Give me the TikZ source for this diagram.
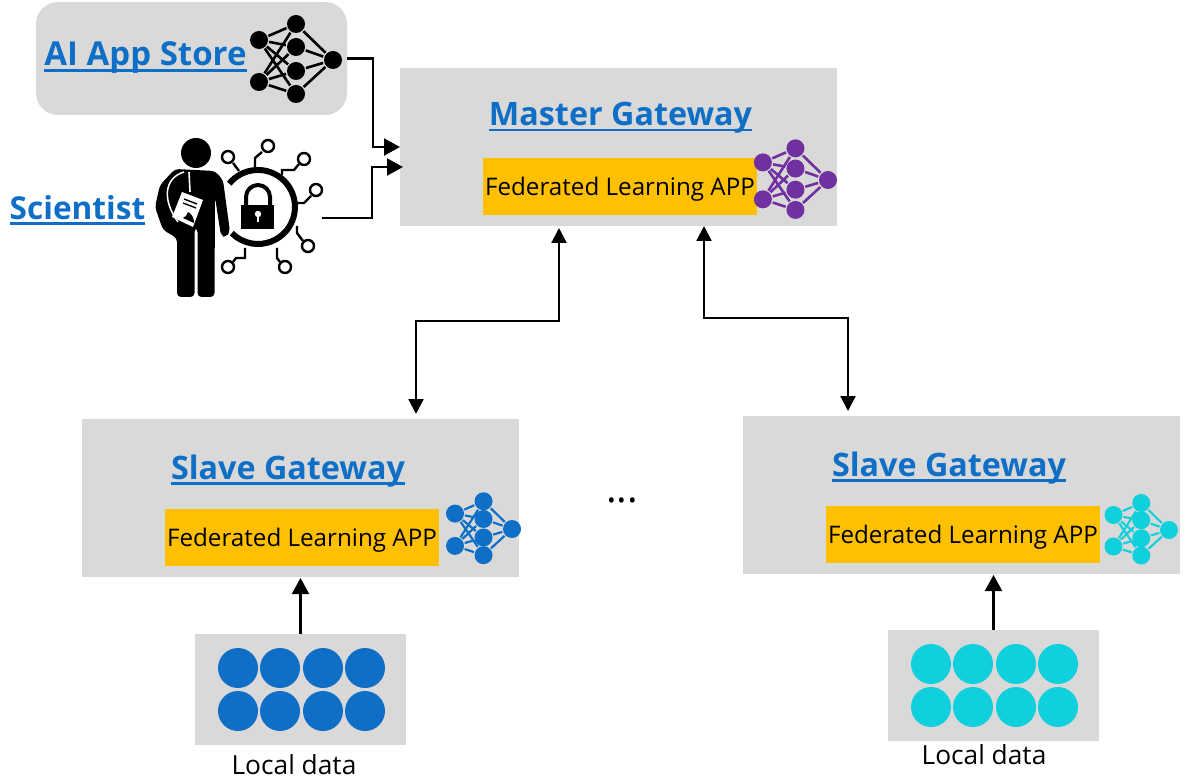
\documentclass[tikz,border=0pt]{standalone}
\usepackage{fontspec}
\setmainfont{Open Sans}
\usetikzlibrary{arrows.meta}
\definecolor{boxgray}{HTML}{D9D9D9}
\definecolor{appyellow}{HTML}{FFC000}
\definecolor{linkblue}{HTML}{0F6FC6}
\definecolor{netpurple}{HTML}{7030A0}
\definecolor{netcyan}{HTML}{0FD0DC}
\newcommand{\ultext}[1]{\setbox0=\hbox{#1}\rlap{\vrule width\wd0 height-3pt depth 5.6pt}\box0}
\tikzset{
        gatebox/.style = {fill=boxgray, inner sep=0pt, minimum width=437pt, minimum height=158pt},
        storebox/.style = {fill=boxgray, inner sep=0pt, rounded corners=22pt,
            minimum width=311pt, minimum height=113pt},
        databox/.style = {fill=boxgray, inner sep=0pt, minimum width=211pt, minimum height=111pt},
        appbox/.style = {fill=appyellow, inner sep=0pt, minimum width=274pt, minimum height=57pt},
        apptext/.style = {inner sep=0pt, font=\fontsize{24.2}{30}\selectfont},
        title/.style = {text=linkblue, inner sep=0pt, font=\fontsize{32.3}{40}\selectfont\bfseries},
        datalabel/.style = {inner sep=0pt, font=\fontsize{26.3}{30}\selectfont},
        link/.style = {draw=black, line width=2.2pt, -{Triangle[length=16pt,width=17pt]}},
        duplex/.style = {draw=black, line width=2.2pt, {Triangle[length=15pt,width=15pt]}-{Triangle[length=15pt,width=15pt]}},
        neuron/.style = {circle, fill, inner sep=0pt, minimum size=18pt},
        neuralnet/.pic = {
            \foreach \a/\ay in {a/-20,b/22}
                \node [neuron] (\a) at (-74,\ay) {};
            \foreach \m/\my in {c/-36,d/-13,e/11,f/34}
                \node [neuron] (\m) at (-37,\my) {};
            \node [neuron] (o) at (0,0) {};
            \foreach \a in {a,b}
                \foreach \m in {c,d,e,f}
                    \draw (\a) -- (\m);
            \foreach \m in {c,d,e,f}
                \draw (\m) -- (o);
        }
    }

\begin{document}
\begin{tikzpicture}[x=1pt,y=-1pt]
    \useasboundingbox (0,0) rectangle (1196,783);

    % boxes
    \node [storebox] (store) at (191.5,58.5) {};
    \node [gatebox] (master) at (618.5,147) {};
    \node [gatebox] (slaveL) at (300.5,498) {};
    \node [gatebox] (slaveR) at (961.5,495) {};
    \node [databox] (dataL) at (300.5,689.5) {};
    \node [databox] (dataR) at (993.5,685.5) {};

    \node [appbox] (appM) at (620,186.5) {};
    \node [appbox] (appL) at (302,537.5) {};
    \node [appbox] (appR) at (963,534.5) {};
    \node [apptext] (appMT) at (620,189) {Federated Learning APP};
    \node [apptext] (appLT) at (302,540) {Federated Learning APP};
    \node [apptext] (appRT) at (963,537) {Federated Learning APP};

    % labels
    \node [title, font=\fontsize{33}{40}\selectfont\bfseries] (storeT) at (145.5,58) {\ultext{AI App Store}};
    \node [title, font=\fontsize{31.6}{40}\selectfont\bfseries] (sciT) at (77.5,210) {\ultext{Scientist}};
    \node [title] (masterT) at (620.5,118) {\ultext{Master Gateway}};
    \node [title] (slaveLT) at (288,471) {\ultext{Slave Gateway}};
    \node [title] (slaveRT) at (949,468) {\ultext{Slave Gateway}};
    \node [datalabel] (dataLT) at (294,765) {Local data};
    \node [datalabel] (dataRT) at (984,755) {Local data};
    \node [inner sep=0pt, font=\fontsize{40}{46}\selectfont] (dots) at (622,500) {...};

    % networks
    \pic [black, line width=2.6pt] at (333,60) {neuralnet};
    \pic [netpurple, line width=2.6pt, scale=.88, every node/.append style={minimum size=16pt}] at (828,180) {neuralnet};
    \pic [linkblue, line width=2.2pt, scale=.77, every node/.append style={minimum size=14.5pt}] at (512,529) {neuralnet};
    \pic [netcyan, line width=2.1pt, scale=.75, every node/.append style={minimum size=14pt}] at (1169,530) {neuralnet};

    % local data
    \foreach \dx in {238,280,323,365}
        \foreach \dy in {668,711}
            \node [circle, fill=linkblue, inner sep=0pt, minimum size=40pt] (dL\dx\dy) at (\dx,\dy) {};
    \foreach \dx in {931,973,1016,1058}
        \foreach \dy in {664,707}
            \node [circle, fill=netcyan, inner sep=0pt, minimum size=40pt] (dR\dx\dy) at (\dx,\dy) {};

    % scientist
    \fill (196,153) circle (15);
    \fill [rounded corners=4pt] (175,169) -- (215,171) -- (223,180) -- (230,232) -- (226,237) -- (221,236)
        -- (215,197) -- (214.5,297) -- (197.5,297) -- (197.5,228) -- (194.5,228) -- (194.5,297) -- (177,297)
        -- (177,238) -- (163,230) -- (155,207) -- (160,185) -- cycle;
    \draw [white, line width=1.5pt] (184,172) .. controls (164,178) and (162,200) .. (178,222);
    \draw [white, line width=1.6pt] (189,172) -- (190,192);
    \fill [white] (182,192) -- (203,200) -- (193,227) -- (172,217) -- cycle;
    \fill (188,212) .. controls (192,214) and (194,218) .. (194,223) -- (183,218) .. controls (186,217) and (187,215) .. cycle;
    \draw [line width=1.4pt] (184,199) -- (197,204) (183,203) -- (196,208);

    \draw [line width=6pt] (229.2,183.7) arc (-141:135:37);
    \fill (241,205) rectangle (274,229);
    \draw [line width=4pt] (246,205) -- (246,197) arc (180:360:12) -- (270,205);
    \fill [white] (258,214) circle (3.2);
    \fill [white] (256.7,214) rectangle (259.3,222);

    \draw [line width=2.4pt] (233,163) -- (239,171)
        (262,152) -- (255,158) -- (255,168)
        (299,164) -- (294,170) -- (282,170) -- (282,175)
        (311,196) -- (304,203) -- (297,203)
        (303,241) -- (297,233) -- (297,226)
        (280,262) -- (277,258) -- (277,248)
        (233,262) -- (236,258) -- (245,258) -- (245,248);
    \foreach \cx/\cy in {228/157,268/146,304/159,316/190,308/246,285/267,228/267}
        \draw [line width=2.4pt, fill=white] (\cx,\cy) circle (6);

    % connectors
    \coordinate (storeEnd) at (400,147);
    \coordinate (sciOut) at (322,218);
    \coordinate (sciEnd) at (403,167);
    \coordinate (turnA) at (373,147);
    \coordinate (turnB) at (372,218);
    \coordinate (masterA) at (559,228);
    \coordinate (masterB) at (704,226);
    \coordinate (slaveATop) at (416,414);
    \coordinate (slaveBTop) at (848,411);
    \coordinate (midA) at (416,321);
    \coordinate (midB) at (848,318);
    \coordinate (upL) at (300.5,578);
    \coordinate (upR) at (993.5,575);

    \draw [link] (store.east) -| (turnA) -- (storeEnd);
    \draw [link] (sciOut) -- (turnB) |- (sciEnd);
    \draw [duplex] (masterA) |- (midA) -- (slaveATop);
    \draw [duplex] (masterB) |- (midB) -- (slaveBTop);
    \draw [link] (dataL.north) -- (upL);
    \draw [link] (dataR.north) -- (upR);
\end{tikzpicture}
\end{document}
